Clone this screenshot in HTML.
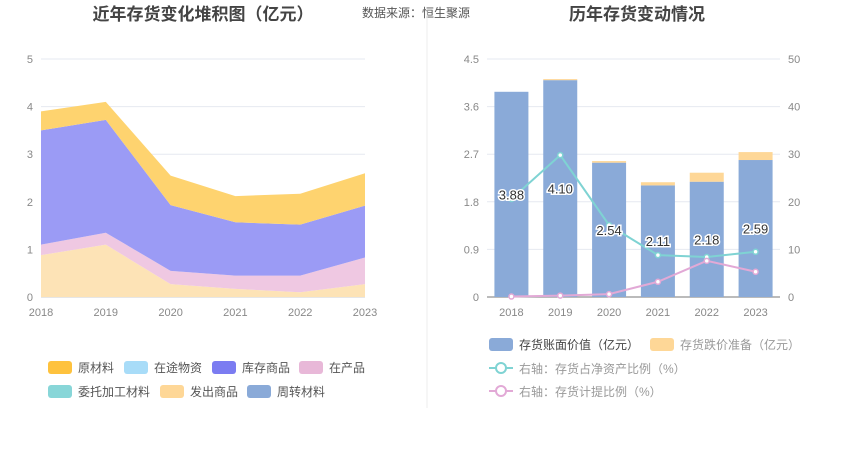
<!DOCTYPE html>
<html><head><meta charset="utf-8">
<style>
body{margin:0;background:#fff;font-family:"Liberation Sans","Noto Sans CJK SC",sans-serif;}
svg text{font-family:"Liberation Sans","Noto Sans CJK SC",sans-serif;}
</style></head>
<body>
<svg id="c" width="850" height="458" xmlns="http://www.w3.org/2000/svg">
<text x="203" y="20" font-size="17" font-weight="bold" fill="#444" text-anchor="middle">近年存货变化堆积图（亿元）</text>
<text x="362" y="17" font-size="12" fill="#555">数据来源：恒生聚源</text>
<text x="637" y="20" font-size="17" font-weight="bold" fill="#444" text-anchor="middle">历年存货变动情况</text>
<line x1="427" y1="10" x2="427" y2="408" stroke="#eee"/>
<g id="L"></g><g id="R"></g>
</svg>
<script>
const years=['2018','2019','2020','2021','2022','2023'];
const leftTicks=[0,1,2,3,4,5];
const faChu=[0.88,1.1,0.27,0.17,0.1,0.27];
const zaiChan=[0.22,0.25,0.28,0.28,0.35,0.56];
const kuCun=[2.4,2.37,1.38,1.12,1.07,1.09];
const yuanCai=[0.4,0.38,0.62,0.55,0.65,0.68];
const bookValue=[3.88,4.10,2.54,2.11,2.18,2.59];
const provision=[0.0,0.02,0.03,0.06,0.17,0.15];
const netRatio=[20.6,29.8,15.1,8.8,8.4,9.5];
const provRatio=[0.1,0.3,0.6,3.2,7.6,5.3];
const rightLeftTicks=['0','0.9','1.8','2.7','3.6','4.5'];
const rightRightTicks=[0,10,20,30,40,50];
const NS='http://www.w3.org/2000/svg';
function mk(p,t,a){const e=document.createElementNS(NS,t);for(const k in a)e.setAttribute(k,a[k]);p.appendChild(e);return e;}
// Left chart
const L=document.getElementById('L');
const lx=i=>41+i*(324/5), ly=v=>297-v*(238/5);
leftTicks.forEach(t=>{const g=mk(L,'line',{x1:41,x2:365,y1:ly(t),y2:ly(t),stroke:t?'#e6e9f0':'#ccc'});


const tx=mk(L,'text',{x:33,y:ly(t)+4,'font-size':11,fill:'#888','text-anchor':'end'});tx.textContent=t;

});
years.forEach((y,i)=>{const tx=mk(L,'text',{x:lx(i),y:316,'font-size':11,fill:'#888','text-anchor':'middle'});tx.textContent=y;

});
const layers=[[faChu,'#fde3b6','area-fachu'],[zaiChan,'#efc8e2','area-zaichan'],[kuCun,'#9b9bf5','area-kucun'],[yuanCai,'#fed36f','area-yuancai']];
let base=years.map(()=>0);
layers.forEach(([d,c,n])=>{const top=base.map((b,i)=>b+d[i]);
let p=top.map((v,i)=>(i?'L':'M')+lx(i)+','+ly(v)).join('');
for(let i=5;i>=0;i--)p+='L'+lx(i)+','+ly(base[i]);
const e=mk(L,'path',{d:p+'Z',fill:c});


base=top;});
const leg=[['原材料','#fec23e',48,367],['在途物资','#a8dcf8',124,367],['库存商品','#7b7cf1',212,367],['在产品','#e8b8d8',299,367],['委托加工材料','#88d6d8',48,391],['发出商品','#fed797',160,391],['周转材料','#8aaad8',247,391]];
leg.forEach(([t,c,x,y])=>{const g=mk(L,'g',{});


mk(g,'rect',{x:x,y:y-6,width:24,height:13,rx:3,fill:c});
const tx=mk(g,'text',{x:x+30,y:y+5,'font-size':12,fill:'#555'});tx.textContent=t;});
// Right chart
const R=document.getElementById('R');
const cw=293/6, rx=i=>487+cw*(i+0.5), ry=v=>297-v*(238/4.5), ry2=v=>297-v*(238/50);
rightLeftTicks.forEach((t,i)=>{const y=297-i*238/5;
const g=mk(R,'line',{x1:487,x2:780,y1:y,y2:y,stroke:i?'#e6e9f0':'#777'});


const tx=mk(R,'text',{x:479,y:y+4,'font-size':11,fill:'#888','text-anchor':'end'});tx.textContent=t;


const t2=mk(R,'text',{x:788,y:ry2(rightRightTicks[i])+4,'font-size':11,fill:'#888'});t2.textContent=rightRightTicks[i];

});
years.forEach((y,i)=>{const tx=mk(R,'text',{x:rx(i),y:316,'font-size':11,fill:'#888','text-anchor':'middle'});tx.textContent=y;


const b=mk(R,'rect',{x:rx(i)-17,y:ry(bookValue[i]),width:34,height:297-ry(bookValue[i]),fill:'#8aaad8'});


const p=mk(R,'rect',{x:rx(i)-17,y:ry(bookValue[i]+provision[i]),width:34,height:ry(bookValue[i])-ry(bookValue[i]+provision[i]),fill:'#fed797'});

});
[[netRatio,'#7fd3d3','line-net-ratio'],[provRatio,'#e2a9d6','line-provision-ratio']].forEach(([d,c,n])=>{
const l=mk(R,'polyline',{points:d.map((v,i)=>rx(i)+','+ry2(v)).join(' '),fill:'none',stroke:c,'stroke-width':2});


d.forEach((v,i)=>{const pt=mk(R,'circle',{cx:rx(i),cy:ry2(v),r:2.5,fill:'#fff',stroke:c,'stroke-width':1.5});

});});
bookValue.forEach((v,i)=>{const tx=mk(R,'text',{x:rx(i),y:ry(v/2)+5,'font-size':13,fill:'#333','text-anchor':'middle',stroke:'#fff','stroke-width':3,'paint-order':'stroke'});tx.textContent=v.toFixed(2);

});
const rleg=[['存货账面价值（亿元）','#8aaad8',489,344,'rect'],['存货跌价准备（亿元）','#fed797',650,344,'rect'],['右轴：存货占净资产比例（%）','#7fd3d3',489,368,'line'],['右轴：存货计提比例（%）','#e2a9d6',489,391,'line']];
rleg.forEach(([t,c,x,y,k])=>{const g=mk(R,'g',{});


if(k==='rect')mk(g,'rect',{x:x,y:y-6,width:24,height:13,rx:3,fill:c});
else{mk(g,'line',{x1:x,x2:x+24,y1:y,y2:y,stroke:c,'stroke-width':2});mk(g,'circle',{cx:x+12,cy:y,r:5,fill:'#fff',stroke:c,'stroke-width':2});}
const tx=mk(g,'text',{x:x+30,y:y+5,'font-size':12,fill:k==='rect'&&x<600?'#444':'#999'});tx.textContent=t;});
</script>
</body></html>
